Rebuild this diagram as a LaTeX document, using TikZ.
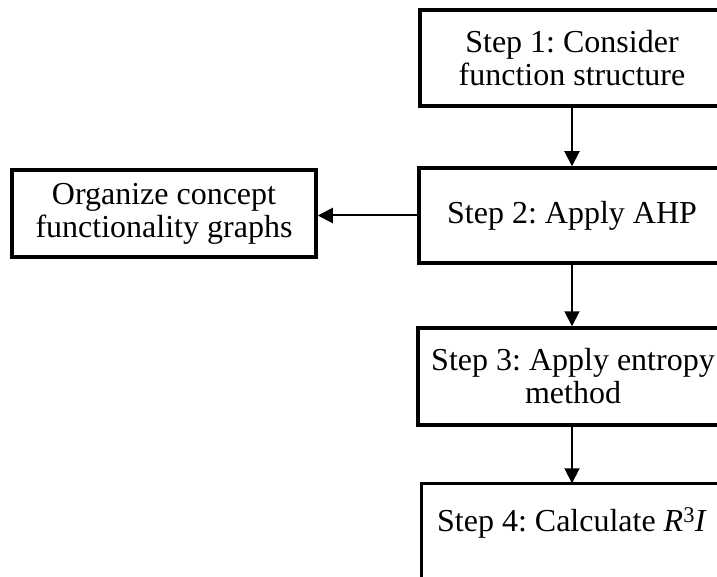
\documentclass[tikz,border=0pt]{standalone}
\usepackage{fontspec}
\setmainfont{Liberation Serif}
\usetikzlibrary{arrows.meta}
\begin{document}
\begin{tikzpicture}[x=1pt,y=-1pt,
  stepbox/.style={draw=black, line width=3.5pt, align=center, inner sep=0pt,
    font=\fontsize{32}{33}\selectfont\frenchspacing},
  flow/.style={line width=2pt, -{Triangle[length=15pt,width=15pt]}}]
  \useasboundingbox (0,0) rectangle (717,577);
  \clip (0,0) rectangle (717,577);
  \node[stepbox, minimum width=304pt, minimum height=96pt] (s1) at (572,58)
    {Step 1: Consider\\function structure};
  \node[stepbox, minimum width=306pt, minimum height=95pt] (s2) at (572,215.5)
    {Step 2: Apply AHP};
  \node[stepbox, minimum width=304pt, minimum height=87pt] (org) at (164,213.5)
    {Organize concept\\functionality graphs};
  \node[stepbox, minimum width=310pt, minimum height=97pt] (s3) at (573,376.5)
    {Step 3: Apply entropy\\method};
  \node[stepbox, draw=none, minimum width=298pt, minimum height=76pt] (s4) at (572,523)
    {Step 4: Calculate \textit{R}\textsuperscript{3}\textit{I}};
  \draw[line width=3.5pt] ([yshift=-60pt]s4.south west) -- (s4.north west)
    -- (s4.north east) -- ([yshift=-60pt]s4.south east);
  \draw[flow] (s1.south -| 572,0) -- (s2.north -| 572,0);
  \draw[flow] (s2.west) -- (s2.west -| org.east);
  \draw[flow] (s2.south -| 572,0) -- (s3.north -| 572,0);
  \draw[flow] (s3.south -| 572,0) -- (s4.north -| 572,0);
\end{tikzpicture}
\end{document}
